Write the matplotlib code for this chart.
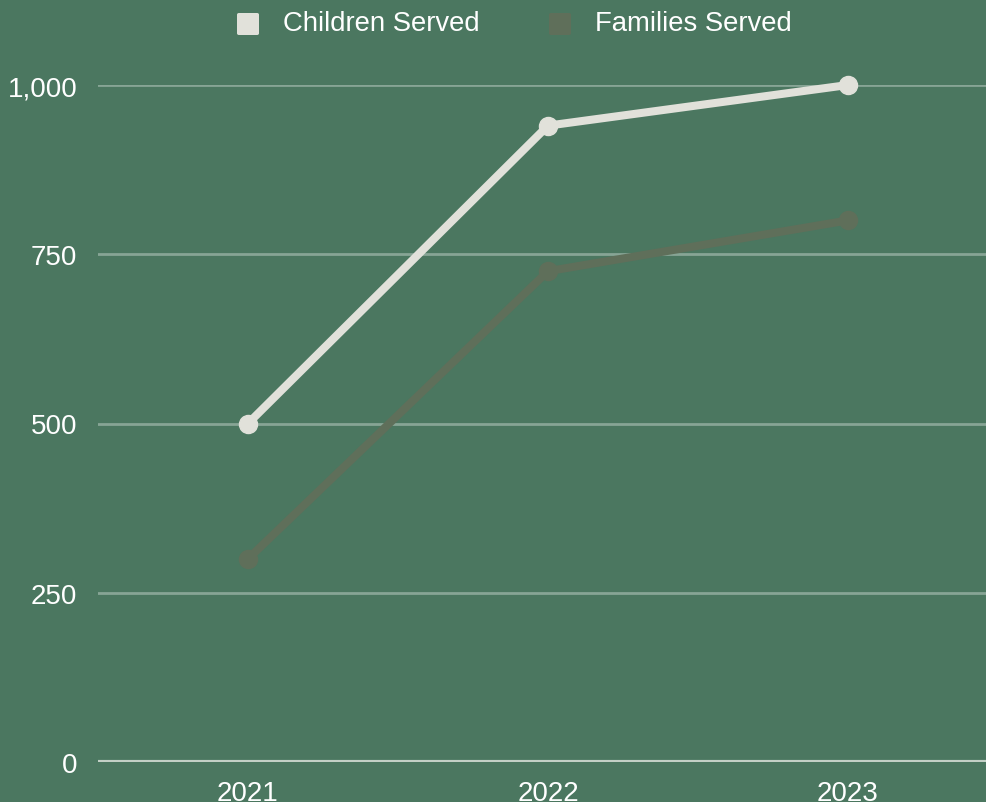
import matplotlib
matplotlib.use("Agg")
import matplotlib.pyplot as plt
from matplotlib.patches import FancyBboxPatch
from matplotlib.ticker import FuncFormatter

years = ["2021", "2022", "2023"]
children = [500, 940, 1000]
families = [300, 725, 800]
yticks = [0, 250, 500, 750, 1000]

BG = "#4b7760"
C_CHILD = "#e1e1da"
C_FAM = "#5f6f5a"
GRID = "#87a595"
BASE = "#c3d0c6"

plt.rcParams['font.family'] = ['Liberation Sans', 'DejaVu Sans']

W, H = 987, 803
fig = plt.figure(figsize=(W/100, H/100), dpi=100, facecolor=BG)
ax = fig.add_axes([98/W, (H-763)/H, (W-98)/W, (763-86)/H], facecolor=BG)

x = list(range(len(years)))
ax.plot(x, families, color=C_FAM, lw=5.8, marker='o', ms=13, solid_capstyle='round', zorder=3, clip_on=False)
ax.plot(x, children, color=C_CHILD, lw=5.8, marker='o', ms=13, solid_capstyle='round', zorder=4, clip_on=False)

ax.set_xlim(-0.5, (W-248)/300)
ax.set_ylim(0, 1000)
ax.set_yticks(yticks)
ax.yaxis.set_major_formatter(FuncFormatter(lambda v, p: f"{int(v):,}"))
ax.set_xticks(x)
ax.set_xticklabels(years)
for s in ax.spines.values():
    s.set_visible(False)
ax.grid(axis='y', color=GRID, lw=2, zorder=1)
ax.axhline(0, color=BASE, lw=3, zorder=2)
ax.tick_params(axis='both', length=0, colors='white', labelsize=20)
ax.tick_params(axis='y', pad=15)
ax.tick_params(axis='x', pad=13)

# legend
def legend_item(x0, color, label):
    r = FancyBboxPatch((x0/W, (H-36)/H), 22/W, 22/H, boxstyle="round,pad=0,rounding_size=0.002",
                       transform=fig.transFigure, facecolor=color, edgecolor='none')
    fig.patches.append(r)
    fig.text((x0+46)/W, (H-24)/H, label, color='white', fontsize=19.8, va='center', ha='left')

legend_item(237, C_CHILD, "Children Served")
legend_item(549, C_FAM, "Families Served")

fig.savefig("out.png", dpi=100, facecolor=BG)
